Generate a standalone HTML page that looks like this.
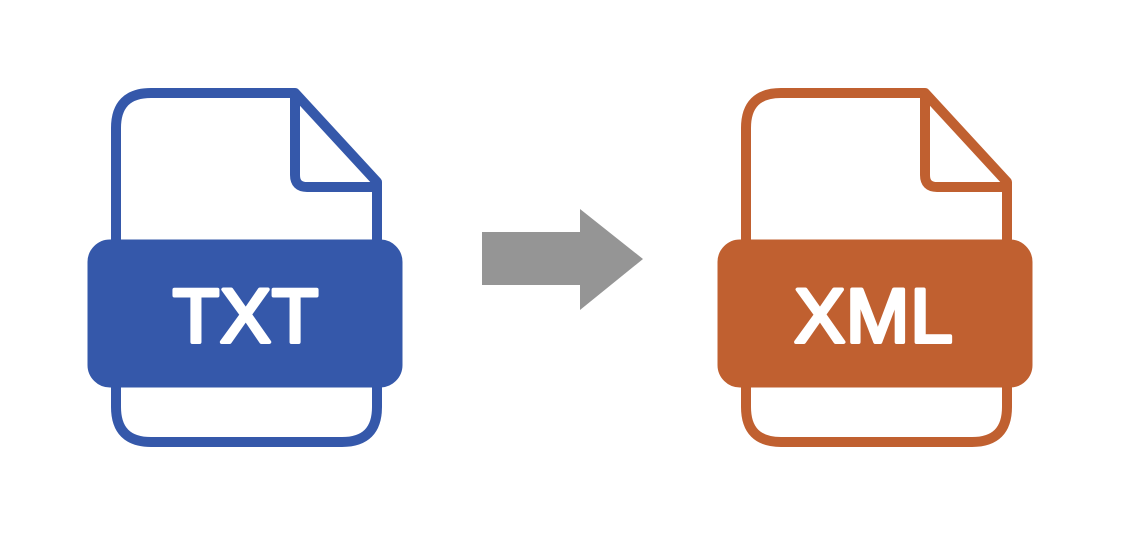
<!DOCTYPE html>
<html><head><style>html,body{margin:0;padding:0;background:#fff;}svg{display:block}</style></head>
<body>
<svg width="1128" height="539" viewBox="0 0 1128 539" xmlns="http://www.w3.org/2000/svg">
<defs>
<g id="doc">
<path d="M116 240 V128 Q116 93 151 93 H295 L377 182 V240 M377 387 V407 Q377 442 342 442 H151 Q116 442 116 407 V387" fill="none" stroke-width="10" stroke-linejoin="round"/>
<path d="M295 93 V175 Q295 187 307 187 H377" fill="none" stroke-width="10"/>
<rect x="88" y="240" width="314" height="147" rx="22"/>
</g>
</defs>
<g fill="#3558aa" stroke="#3558aa"><use href="#doc"/></g>
<g fill="#c06030" stroke="#c06030" transform="translate(630,0)"><use href="#doc"/></g>
<g font-family="Liberation Sans, sans-serif" font-size="76" fill="#fff" stroke="#fff" stroke-width="4" stroke-linejoin="round" stroke-linecap="round" text-anchor="middle">
<text x="246" y="342" letter-spacing="1">TXT</text>
<text x="874" y="342" letter-spacing="1">XML</text>
</g>
<polygon points="482,232 580,232 580,209 643,259 580,310 580,285 482,285" fill="#959595"/>
</svg>
</body></html>
